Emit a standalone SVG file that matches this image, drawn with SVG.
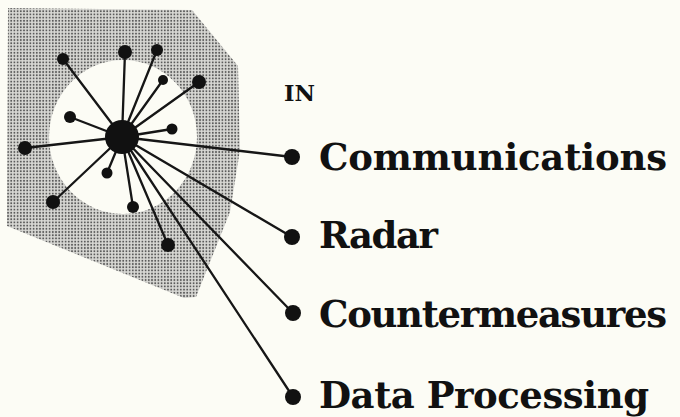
<svg xmlns="http://www.w3.org/2000/svg" width="680" height="417" viewBox="0 0 680 417">
  <style>
    .spoke { stroke: #161616; stroke-width: 2.3; fill: none; stroke-linecap: round; }
    .dot { fill: #111; }
    .lbl { font-family: "DejaVu Serif", "Liberation Serif", serif; font-weight: bold; font-size: 37px; fill: #111; }
    .small { font-family: "DejaVu Serif", "Liberation Serif", serif; font-weight: bold; font-size: 23px; fill: #111; }
  </style>
  <defs>
    <pattern id="halftone" width="3.2" height="3.2" patternUnits="userSpaceOnUse">
      <rect width="3.2" height="3.2" fill="#d8d8d4"/>
      <circle cx="1.6" cy="1.6" r="0.95" fill="#585858"/>
    </pattern>
  </defs>
  <rect width="680" height="417" fill="#fcfcf5"/>

  <g id="background">
    <polygon points="8,8 192,10 238,66 240,150 230,212 196,297 184,298 7,226" fill="url(#halftone)"/>
    <ellipse cx="123" cy="137" rx="74" ry="77" fill="#fcfcf5"/>
  </g>

  <g id="connectors">
    <line class="spoke" x1="122" y1="137" x2="63" y2="59"/>
    <line class="spoke" x1="122" y1="137" x2="125" y2="52"/>
    <line class="spoke" x1="122" y1="137" x2="157" y2="50"/>
    <line class="spoke" x1="122" y1="137" x2="163" y2="80"/>
    <line class="spoke" x1="122" y1="137" x2="199" y2="82"/>
    <line class="spoke" x1="122" y1="137" x2="70" y2="117"/>
    <line class="spoke" x1="122" y1="137" x2="172" y2="129"/>
    <line class="spoke" x1="122" y1="137" x2="25" y2="148"/>
    <line class="spoke" x1="122" y1="137" x2="107" y2="173"/>
    <line class="spoke" x1="122" y1="137" x2="53" y2="202"/>
    <line class="spoke" x1="122" y1="137" x2="133" y2="207"/>
    <line class="spoke" x1="122" y1="137" x2="168" y2="245"/>
    <line class="spoke" x1="122" y1="137" x2="292" y2="157"/>
    <line class="spoke" x1="122" y1="137" x2="292" y2="237"/>
    <line class="spoke" x1="122" y1="137" x2="293" y2="313"/>
    <line class="spoke" x1="122" y1="137" x2="293" y2="397"/>
  </g>

  <g id="hub"><circle class="dot" cx="122" cy="137" r="17"/></g>
  <g id="sat1"><circle class="dot" cx="63" cy="59" r="6"/></g>
  <g id="sat2"><circle class="dot" cx="125" cy="52" r="7"/></g>
  <g id="sat3"><circle class="dot" cx="157" cy="50" r="6"/></g>
  <g id="sat4"><circle class="dot" cx="163" cy="80" r="5"/></g>
  <g id="sat5"><circle class="dot" cx="199" cy="82" r="7"/></g>
  <g id="sat6"><circle class="dot" cx="70" cy="117" r="6"/></g>
  <g id="sat7"><circle class="dot" cx="172" cy="129" r="5.5"/></g>
  <g id="sat8"><circle class="dot" cx="25" cy="148" r="7"/></g>
  <g id="sat9"><circle class="dot" cx="107" cy="173" r="5.5"/></g>
  <g id="sat10"><circle class="dot" cx="53" cy="202" r="7"/></g>
  <g id="sat11"><circle class="dot" cx="133" cy="207" r="6"/></g>
  <g id="sat12"><circle class="dot" cx="168" cy="245" r="7"/></g>

  <g id="title"><text class="small" x="284" y="101" textLength="31" lengthAdjust="spacingAndGlyphs">IN</text></g>

  <g id="communications">
    <circle class="dot" cx="292" cy="157" r="8"/>
    <text class="lbl" x="319" y="170" textLength="348" lengthAdjust="spacing">Communications</text>
  </g>
  <g id="radar">
    <circle class="dot" cx="292" cy="237" r="8"/>
    <text class="lbl" x="319" y="248" textLength="119" lengthAdjust="spacing">Radar</text>
  </g>
  <g id="countermeasures">
    <circle class="dot" cx="293" cy="313" r="8"/>
    <text class="lbl" x="319" y="327" textLength="348" lengthAdjust="spacing">Countermeasures</text>
  </g>
  <g id="dataprocessing">
    <circle class="dot" cx="293" cy="397" r="8"/>
    <text class="lbl" x="319" y="408" textLength="330" lengthAdjust="spacing">Data Processing</text>
  </g>
</svg>
